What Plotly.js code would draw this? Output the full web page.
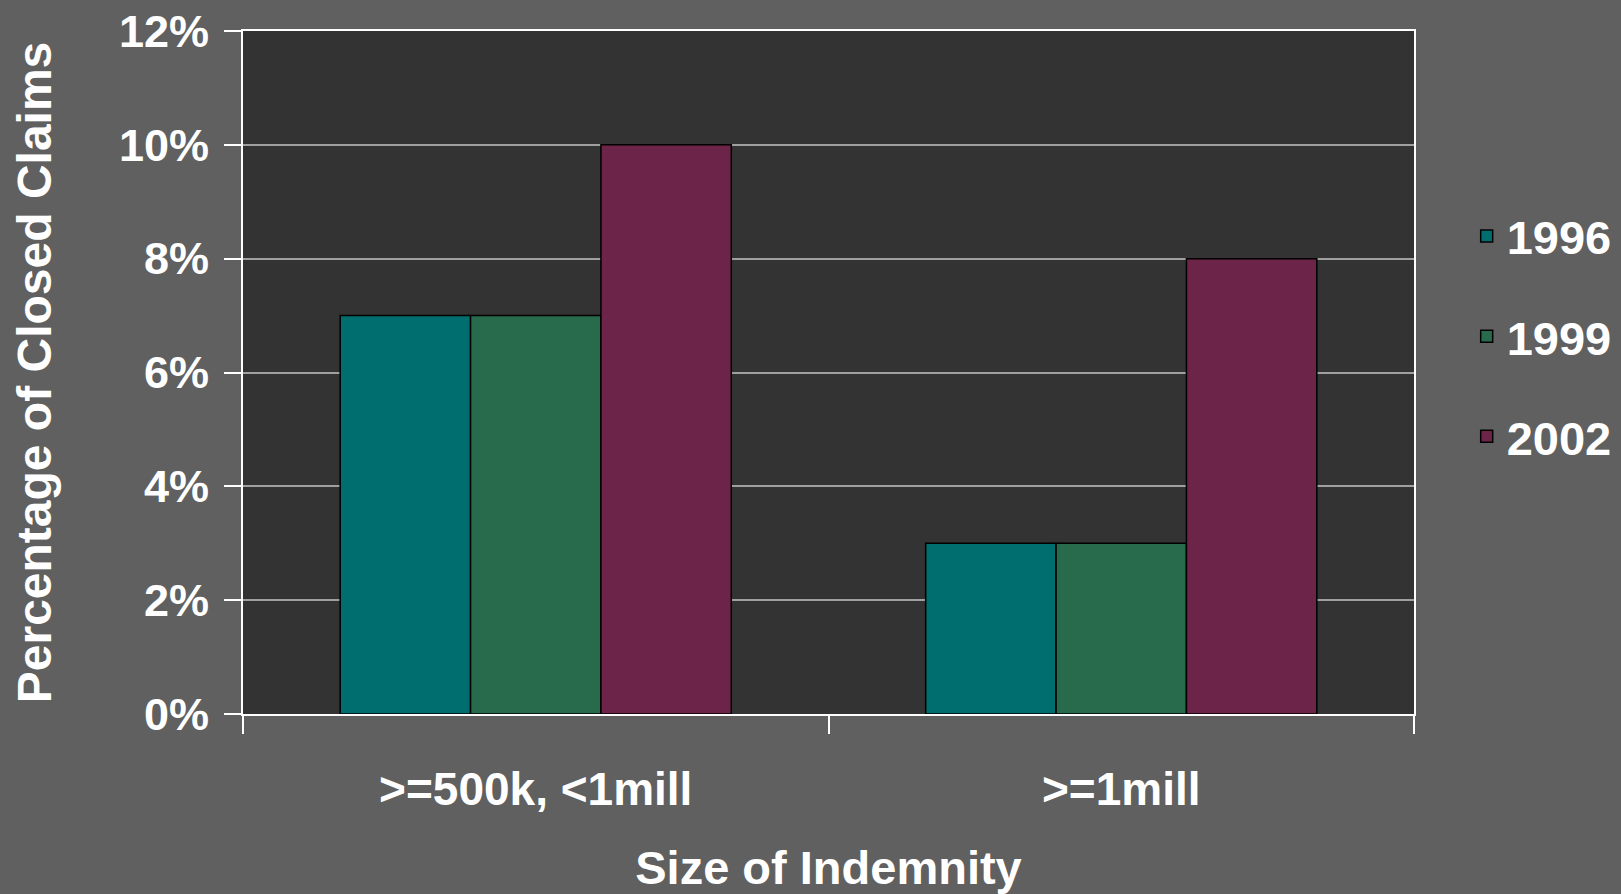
<!DOCTYPE html>
<html>
<head>
<meta charset="utf-8">
<script src="https://cdn.plot.ly/plotly-3.0.1.min.js"></script>
<style>html,body{margin:0;padding:0;background:#606060;}#chart{width:1621px;height:894px;}</style>
</head>
<body>
<div id="chart"></div>
<script>
const categories = [">=500k, <1mill", ">=1mill"];
const seriesNames = ["1996", "1999", "2002"];
const values1996 = [0.07, 0.03];
const values1999 = [0.07, 0.03];
const values2002 = [0.10, 0.08];
const seriesColors = ["#006e6e", "#286b4c", "#6c2548"];

const allValues = [values1996, values1999, values2002];
const FONT = "Liberation Sans, Arial, sans-serif";

const traces = allValues.map((vals, i) => ({
  type: "bar",
  name: seriesNames[i],
  x: categories,
  y: vals,
  legendgroup: "g" + i,
  marker: { color: seriesColors[i], line: { color: "#000000", width: 1.5 } },
  hoverinfo: "x+y+name"
}));

const layout = {
  width: 1621,
  height: 894,
  paper_bgcolor: "#606060",
  plot_bgcolor: "#333333",
  margin: { l: 243, r: 207, t: 31, b: 180, autoexpand: false },
  barmode: "group",
  bargap: 0.332,
  bargroupgap: 0,
  font: { family: FONT, color: "#ffffff", size: 46, weight: 700 },
  xaxis: {
    title: { text: "Size of Indemnity", font: { family: FONT, size: 47, color: "#ffffff", weight: 700 }, standoff: 38 },
    tickfont: { family: FONT, size: 46, color: "#ffffff", weight: 700 },
    showline: true, linecolor: "#ffffff", linewidth: 2, mirror: true,
    ticks: "outside", tickson: "boundaries", ticklen: 18, tickcolor: "#ffffff", tickwidth: 2,
    ticklabelstandoff: 34,
    showgrid: false
  },
  yaxis: {
    title: { text: "Percentage of Closed Claims", font: { family: FONT, size: 48, color: "#ffffff", weight: 700 }, standoff: 52 },
    tickfont: { family: FONT, size: 45, color: "#ffffff", weight: 700 },
    range: [0, 0.12], dtick: 0.02, tickformat: ".0%",
    showline: true, linecolor: "#ffffff", linewidth: 2, mirror: true,
    ticks: "outside", ticklen: 17, tickcolor: "#ffffff", tickwidth: 2,
    ticklabelstandoff: 6,
    showgrid: true, gridcolor: "#a0a0a0", gridwidth: 1.5,
    zeroline: false
  },
  legend: {
    x: 1.045, xanchor: "left", y: 0.754, yanchor: "top",
    font: { family: FONT, size: 47, color: "#ffffff", weight: 700 },
    bgcolor: "rgba(0,0,0,0)",
    traceorder: "grouped",
    tracegroupgap: 36
  },
  showlegend: true
};

Plotly.newPlot("chart", traces, layout, { displayModeBar: false, responsive: false });
</script>
</body>
</html>
